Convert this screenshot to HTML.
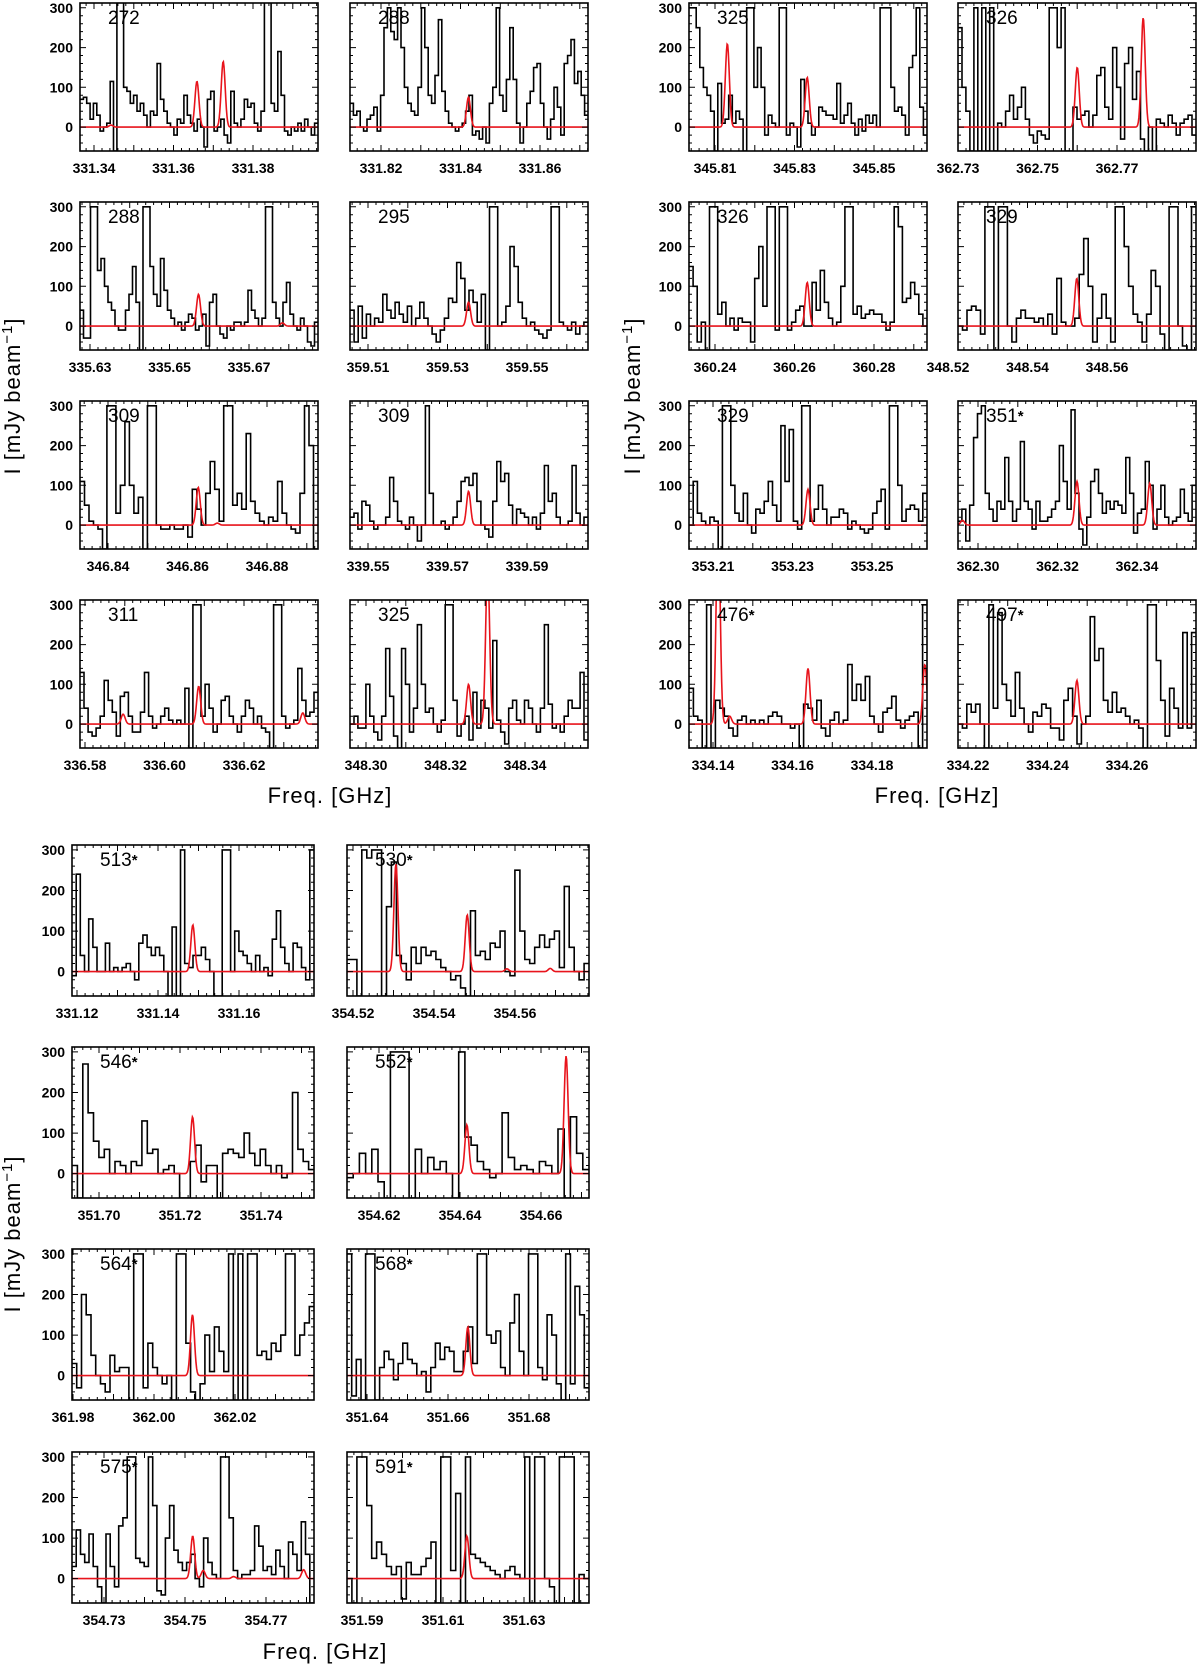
<!DOCTYPE html>
<html><head><meta charset="utf-8"><style>
html,body{margin:0;padding:0;background:#fff;}
svg{display:block;font-family:"Liberation Sans",sans-serif;}
</style></head><body>
<svg id="fig" width="1200" height="1671" viewBox="0 0 1200 1671" xmlns="http://www.w3.org/2000/svg"></svg>
<script>
// ---- data ----
const panelLabels = ["272","288","325","326","288","295","326","329","309","309","329","351*","311","325","476*","497*","513*","530*","546*","552*","564*","568*","575*","591*"];
const firstTicks = [331.34,331.82,345.81,362.73,335.63,359.51,360.24,348.52,346.84,339.55,353.21,362.30,336.58,348.30,334.14,334.22,331.12,354.52,351.70,354.62,361.98,351.64,354.73,351.59];
const yTicks = [0,100,200,300];
const spectra = [
[70,75,60,20,60,30,-10,0,10,115,-60,320,320,100,90,60,80,40,60,30,0,40,30,160,70,40,10,0,-20,20,10,80,30,10,-10,20,0,-50,70,90,-10,0,20,-20,-40,90,10,0,20,70,50,60,10,-10,40,320,320,60,40,190,80,-10,-20,0,-10,10,-10,20,0,-20,10],
[60,30,40,0,-10,20,30,50,-10,80,250,300,240,220,300,200,100,60,40,30,100,300,200,80,60,130,270,90,40,10,0,-10,0,10,40,80,-20,-10,-30,0,-40,60,100,300,80,40,120,250,120,10,-40,0,60,90,150,160,60,0,-30,20,100,50,-20,160,180,220,110,140,80,30],
[300,300,250,150,100,80,40,-60,110,10,20,80,10,40,20,-60,300,300,100,200,100,-20,30,10,0,300,300,-20,10,0,-50,120,40,10,-20,0,50,40,30,30,20,110,10,30,60,10,-20,20,-10,30,10,30,0,300,300,300,100,40,50,30,-20,150,180,300,50,-20],
[250,100,40,-60,300,-60,300,-60,300,-60,10,0,40,80,20,50,100,20,-20,-40,-10,-20,-30,300,300,200,300,-60,-60,50,20,30,40,0,30,130,150,50,20,200,100,-30,160,200,70,140,-30,-60,0,-60,20,10,0,30,10,-20,10,20,30,-20],
[40,-30,-30,300,300,140,170,100,60,40,0,-10,-10,40,80,150,60,-60,300,300,150,80,50,170,90,40,20,0,10,-10,10,30,20,-10,0,30,-50,60,80,0,-20,-30,0,-10,10,10,0,10,90,40,20,0,20,300,300,60,20,0,60,110,30,0,-10,20,0,-40,-50,10],
[40,-40,50,-30,30,0,20,10,80,40,20,60,30,10,50,0,20,60,20,0,-20,-40,-10,20,70,60,160,120,40,90,60,10,80,-60,300,300,0,10,50,200,150,60,20,0,10,-10,-20,-30,-10,300,300,10,0,-10,10,-20,0,10],
[150,100,-40,10,-60,300,300,30,60,0,20,-10,20,10,10,-40,120,200,50,300,300,-10,300,300,-10,10,40,50,0,0,110,40,140,60,20,0,10,100,300,300,30,50,20,30,40,30,30,10,-10,10,300,250,60,70,110,80,30,0],
[0,-10,40,50,40,-20,300,300,-60,300,300,0,-40,20,40,20,20,10,20,0,30,-20,120,10,0,0,20,130,220,100,-40,20,80,20,-40,300,300,200,100,30,10,-40,30,140,100,-20,-60,300,300,0,-50,-60,300],
[110,50,10,0,-10,-60,300,300,30,100,260,100,30,70,-60,300,300,0,-10,-10,0,-10,-10,0,-30,90,40,0,80,160,90,10,300,300,50,80,40,230,60,30,10,0,20,10,110,30,0,-10,-20,80,300,200,-60],
[20,30,-10,60,50,10,-10,0,0,20,120,60,10,0,-10,20,0,-40,0,300,80,0,0,10,-10,0,20,60,110,120,100,130,60,0,-10,-30,60,160,110,130,50,0,40,30,20,0,20,-10,30,150,60,80,20,0,0,10,150,30,0,20],
[0,110,30,10,0,20,10,-60,300,300,100,30,10,80,0,-20,40,30,60,110,50,10,250,110,240,10,-10,300,300,10,40,100,40,0,20,20,40,30,-10,10,0,-10,-20,-10,30,60,90,-10,300,300,100,10,40,50,40,10,80],
[10,40,-40,50,220,280,300,80,40,10,60,40,170,60,10,40,210,60,40,-10,60,10,10,20,40,60,200,110,40,290,80,-10,-50,20,110,140,80,30,60,40,60,50,30,170,80,-20,30,40,160,100,-10,40,100,20,0,10,20,90,30,10,100],
[130,40,-20,-30,-10,20,110,60,30,-30,70,80,20,-20,-20,30,130,20,-10,0,20,40,10,0,10,0,90,-60,300,300,20,100,40,-20,0,60,70,20,0,-20,20,60,40,0,20,-10,-20,-60,300,300,20,-10,0,10,140,60,20,30,80],
[0,20,-10,-10,100,20,-20,-40,20,190,70,-30,-60,190,100,-20,40,250,100,30,40,0,-20,10,300,300,60,-30,0,20,-40,80,-10,60,40,-10,210,10,-20,-50,40,60,10,0,60,40,0,-20,40,250,50,-10,0,-20,20,60,40,40,130,-40],
[90,20,10,-60,300,-60,60,40,20,-10,-30,10,20,0,10,0,10,0,20,30,20,0,0,-10,0,-60,50,40,10,60,-10,-30,10,30,0,10,150,60,100,60,120,20,0,-20,30,40,70,10,-10,10,20,30,-60,300],
[0,-10,50,30,50,0,-60,300,40,280,100,60,20,130,40,0,-20,30,20,50,40,-10,-10,-40,60,90,20,-50,0,20,270,160,190,60,30,80,30,40,20,0,10,-10,-60,300,300,160,60,-30,90,40,-10,230,-10,230],
[-10,240,40,0,130,60,0,0,70,0,10,0,10,20,0,-20,70,90,60,40,60,40,0,-60,110,-60,300,20,10,40,40,60,30,0,-60,-60,300,300,0,100,50,40,20,0,40,0,10,-10,80,150,60,20,0,70,60,10,-20,300],
[30,30,-60,300,280,300,300,-60,160,270,40,20,-20,60,20,60,40,50,30,10,0,-20,-10,-40,-60,150,40,50,30,70,60,100,0,-10,250,100,30,20,60,90,60,80,100,10,210,60,0,-20,20],
[20,-60,270,150,80,40,60,0,30,20,0,30,20,130,50,60,0,10,20,0,-60,-60,30,70,-20,20,20,-60,50,60,50,40,100,50,20,60,20,0,20,-10,0,200,60,30,10],
[-10,0,50,0,60,-20,-60,300,300,300,-60,60,0,40,10,30,0,-60,300,90,70,30,10,-10,0,150,40,10,20,10,0,30,20,0,110,-60,140,50,10],
[30,-30,200,150,50,0,-20,-40,50,10,20,20,-60,300,300,-30,80,20,0,-20,0,-60,300,300,80,-40,-60,-20,100,10,120,60,10,300,-60,300,-60,300,300,50,60,40,80,60,100,300,300,50,100,130,170],
[300,-50,40,-60,300,300,-60,20,60,40,-10,30,80,40,30,0,10,-40,20,80,40,70,60,10,10,60,120,30,300,300,100,80,110,20,0,130,200,60,0,300,300,20,-10,150,100,-20,-60,300,-20,220,150,-30],
[30,120,60,40,110,30,-20,-60,110,30,-20,130,150,300,300,50,40,30,300,180,-30,-40,100,180,70,40,20,40,60,0,-20,100,40,10,0,300,300,150,20,0,10,10,20,130,80,20,30,10,70,30,0,90,60,20,140,60,-60],
[0,-60,300,300,180,50,90,60,30,10,30,-50,40,10,10,30,50,90,-60,300,300,20,210,-60,300,60,50,40,30,20,10,0,20,30,10,0,300,-60,300,300,0,-20,-60,300,300,300,-60,10,0]
];
const modelCenters = [
[331.3443,331.3659,331.3725],[331.842],[345.8131,345.8332],[362.7600,362.7766],
[335.6573,335.6784],[359.5353],[360.2632],[348.5524],
[346.8627,346.8675],[339.5753],[353.2339],[362.2961,362.3249,362.3432],
[336.5896,336.6086,336.6348],[348.3258,348.3306],[334.1413,334.1442,334.1639,334.1933],[334.2474],
[331.1486],[354.5306,354.5482,354.558,354.5687],[351.7231],[354.6417,354.6662],
[362.0095],[351.6649],[354.7519,354.7545,354.762,354.7793],[351.6159]
];
const modelAmps = [
[5,115,165],[75],[210,125],[150,275],
[80,8],[60],[110],[120],
[95,5],[85],[90],[12,110,105],
[25,95,28],[100,400],[520,20,140,150],[110],
[115],[265,140,7,8],[140],[120,290],
[150],[120],[105,20,5,22],[105]
];
const modelSigma = 0.0005;

// ---- layout ----
const NS="http://www.w3.org/2000/svg";
const svg=document.getElementById('fig');
const YMIN=-60, YMAX=312;
function el(tag,attrs,parent){const e=document.createElementNS(NS,tag);for(const k in attrs)e.setAttribute(k,attrs[k]);(parent||svg).appendChild(e);return e;}
const topCols=[80,350,689,958], topRows=[3,202,401,600];
const botCols=[72,347], botRows=[845,1047,1249,1452];
const tickOffsets=[14,31,26,0, 10,18,26,-10, 28,18,24,20, 5,16,24,10, 5,6,27,32, 1,20,32,15];
function geom(i){
  if(i<16){const r=Math.floor(i/4),c=i%4;return {x:topCols[c],y:topRows[r],w:238,h:148,sp:79.5,ylab:(c===0||c===2)};}
  const j=i-16;const r=Math.floor(j/2),c=j%2;return {x:botCols[c],y:botRows[r],w:242,h:151,sp:81,ylab:(c===0)};
}
for(let i=0;i<24;i++){
  const g=geom(i);
  const t0=firstTicks[i];
  const perGHz=g.sp/0.02;
  const xmin=t0-tickOffsets[i]/perGHz, xmax=xmin+g.w/perGHz;
  const X=v=>g.x+(v-xmin)*perGHz;
  const Y=v=>g.y+g.h*(YMAX-v)/(YMAX-YMIN);
  const grp=el('g',{});
  
  
  const cp=el('clipPath',{id:'cp'+i},grp);el('rect',{x:g.x,y:g.y,width:g.w,height:g.h},cp);
  // black spectrum as histogram steps
  const s=spectra[i];const n=s.length;const dx=(xmax-xmin)/n;
  let d0='';
  for(let k=0;k<n;k++){const v=Math.max(-80,Math.min(340,s[k]));const x0=X(xmin+k*dx),x1=X(xmin+(k+1)*dx),yy=Y(v);
    d0+=(k===0?'M':'L')+x0.toFixed(1)+','+yy.toFixed(1)+'L'+x1.toFixed(1)+','+yy.toFixed(1);}
  const pl=el('path',{d:d0,fill:'none',stroke:'#000','stroke-width':1.6,'clip-path':'url(#cp'+i+')'},grp);
  
  
  // red model
  let rp=[];const M=400;
  for(let k=0;k<=M;k++){const v=xmin+(xmax-xmin)*k/M;let y=0;modelCenters[i].forEach((c,m)=>{y+=modelAmps[i][m]*Math.exp(-0.5*Math.pow((v-c)/modelSigma,2));});
    rp.push(X(v).toFixed(1)+','+Y(Math.min(y,360)).toFixed(1));}
  const rl=el('polyline',{points:rp.join(' '),fill:'none',stroke:'#e8141c','stroke-width':1.6,'clip-path':'url(#cp'+i+')'},grp);
  
  
  // frame
  const fr=el('rect',{x:g.x,y:g.y,width:g.w,height:g.h,fill:'none',stroke:'#000','stroke-width':1.6},grp);
  
  
  // ticks
  let d='';
  const startMinor=Math.ceil(xmin/0.002);
  for(let m=startMinor;m*0.002<=xmax;m++){const v=m*0.002;const px=X(v);const major=(Math.abs(Math.round(m/5)-m/5)<1e-6);const L=major?6:3;
    d+=`M${px.toFixed(1)},${g.y+g.h}v${-L}M${px.toFixed(1)},${g.y}v${L}`;}
  for(let v=-60;v<=YMAX;v+=20){const py=Y(v);const major=(v%100===0);const L=major?6:3;
    d+=`M${g.x},${py.toFixed(1)}h${L}M${g.x+g.w},${py.toFixed(1)}h${-L}`;}
  el('path',{d:d,stroke:'#000','stroke-width':1,fill:'none'},grp);
  // x tick labels
  for(let k=0;k<3;k++){const v=t0+0.02*k;const t=el('text',{x:X(v),y:g.y+g.h+22,'text-anchor':'middle','font-size':14,'font-weight':'bold'},grp);
    t.textContent=v.toFixed(2);
    
    }
  if(g.ylab){yTicks.forEach(v=>{const t=el('text',{x:g.x-7,y:Y(v)+5,'text-anchor':'end','font-size':14,'font-weight':'bold'},grp);
    t.textContent=String(v);
    
    });}
  // panel label
  const lbl=panelLabels[i];
  const pt=el('text',{x:g.x+28,y:g.y+21,'font-size':19},grp);
  
  
  if(lbl.endsWith('*')){pt.textContent=lbl.slice(0,-1);const ts=el('tspan',{'font-size':15,dy:-1,'font-weight':'bold'},pt);ts.textContent='*';}
  else pt.textContent=lbl;
}
// axis titles
function ytitle(x,y,name){const t=el('text',{transform:`translate(${x},${y}) rotate(-90)`,'text-anchor':'middle','font-size':22,'letter-spacing':'1'});
  
  
  t.appendChild(document.createTextNode('I [mJy beam'));const s=el('tspan',{dy:-8,'font-size':15},t);s.textContent='\u22121';const s2=el('tspan',{dy:8},t);s2.textContent=']';}
ytitle(20,396,'y-axis-title-left');ytitle(640,396,'y-axis-title-right');ytitle(20,1234,'y-axis-title-bottom');
function xtitle(x,y,name){const t=el('text',{x:x,y:y,'text-anchor':'middle','font-size':22,'letter-spacing':'1'});t.textContent='Freq. [GHz]';
  
  }
xtitle(330,803,'x-axis-title-left');xtitle(937,803,'x-axis-title-right');xtitle(325,1659,'x-axis-title-bottom');
</script>
</body></html>
